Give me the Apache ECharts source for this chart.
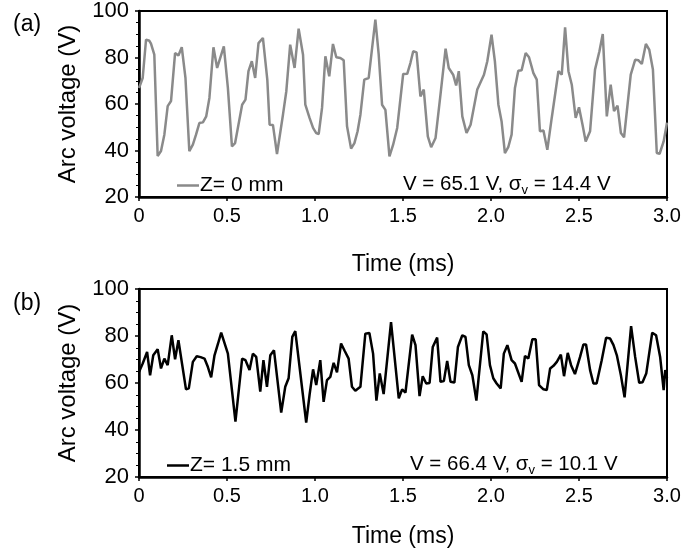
<!DOCTYPE html>
<html>
<head>
<meta charset="utf-8">
<script src="https://cdn.jsdelivr.net/npm/echarts@6/dist/echarts.min.js"></script>
<style>
html,body{margin:0;padding:0;background:#fff;}
#c{width:685px;height:555px;}
</style>
</head>
<body>
<div id="c"></div>
<script>
// Panel (a): Z = 0 mm
const tA = [0.000,0.021,0.040,0.059,0.068,0.087,0.106,0.125,0.144,0.163,0.182,0.205,0.224,0.243,0.264,0.286,0.306,0.324,0.343,0.363,0.382,0.400,0.423,0.444,0.482,0.505,0.528,0.546,0.586,0.605,0.622,0.641,0.660,0.679,0.704,0.729,0.742,0.761,0.784,0.818,0.837,0.859,0.884,0.907,0.932,0.945,0.969,0.989,1.007,1.021,1.040,1.059,1.081,1.102,1.121,1.144,1.163,1.182,1.205,1.224,1.242,1.258,1.280,1.305,1.343,1.362,1.381,1.400,1.423,1.444,1.467,1.501,1.524,1.542,1.558,1.577,1.599,1.618,1.641,1.660,1.685,1.713,1.742,1.760,1.785,1.802,1.817,1.837,1.861,1.884,1.922,1.960,1.979,2.003,2.022,2.042,2.060,2.079,2.098,2.117,2.136,2.155,2.174,2.197,2.216,2.241,2.260,2.278,2.298,2.320,2.345,2.364,2.383,2.402,2.421,2.440,2.459,2.481,2.500,2.520,2.538,2.563,2.591,2.616,2.635,2.658,2.680,2.699,2.719,2.738,2.756,2.794,2.819,2.838,2.857,2.880,2.899,2.920,2.942,2.958,2.981,3.000];
const vA = [66.9,71.2,87.7,87.2,86.0,81.2,37.6,39.8,46.8,59.1,61.3,81.9,80.9,84.4,71.2,39.7,42.5,46.8,51.8,52.1,54.7,62.6,84.4,75.5,84.8,66.9,41.8,43.2,59.7,61.9,74.1,78.4,71.2,86.2,88.4,70.5,51.1,51.0,38.5,55.4,65.5,85.5,75.5,92.4,81.2,59.7,54.0,49.7,47.5,47.1,58.3,80.5,71.9,85.8,80.1,79.8,78.8,50.4,40.8,43.2,48.3,55.4,70.5,71.2,96.3,81.2,59.7,57.5,37.5,42.5,49.7,72.9,73.0,77.6,82.7,82.2,63.3,66.2,46.1,41.4,45.4,64.0,83.8,75.5,72.6,68.0,74.1,54.7,47.5,51.1,66.2,72.6,78.4,89.8,78.4,59.7,52.6,38.9,41.4,46.8,66.9,74.3,74.5,81.9,80.1,73.3,70.5,48.3,48.6,40.3,54.0,64.0,74.1,72.6,93.0,74.1,68.3,54.0,58.6,51.1,43.9,48.3,74.8,82.7,90.1,54.7,68.3,56.9,59.3,47.5,45.7,72.6,79.0,78.8,77.2,85.8,83.4,74.8,38.9,38.6,43.9,52.0];

// Panel (b): Z = 1.5 mm
const tB = [0.000,0.021,0.046,0.063,0.081,0.106,0.125,0.144,0.163,0.186,0.205,0.224,0.245,0.267,0.283,0.306,0.328,0.350,0.372,0.391,0.410,0.429,0.448,0.467,0.505,0.548,0.586,0.605,0.628,0.647,0.666,0.689,0.707,0.727,0.746,0.767,0.808,0.831,0.850,0.871,0.888,0.950,0.969,0.989,1.007,1.030,1.049,1.068,1.087,1.106,1.125,1.148,1.169,1.191,1.210,1.229,1.258,1.286,1.309,1.330,1.349,1.368,1.390,1.432,1.476,1.495,1.514,1.552,1.571,1.594,1.612,1.632,1.651,1.669,1.694,1.713,1.732,1.751,1.770,1.792,1.812,1.837,1.855,1.874,1.894,1.917,1.956,1.975,1.994,2.013,2.032,2.055,2.073,2.093,2.117,2.136,2.174,2.193,2.212,2.235,2.254,2.273,2.298,2.317,2.336,2.355,2.374,2.397,2.415,2.436,2.455,2.477,2.506,2.525,2.540,2.563,2.582,2.600,2.629,2.654,2.677,2.696,2.715,2.738,2.759,2.796,2.819,2.842,2.861,2.882,2.916,2.938,2.961,2.981,2.990,3.000];
const vB = [64.7,68.3,73.2,63.3,71.8,74.4,66.2,70.4,67.6,80.3,70.1,78.2,68.0,57.3,57.7,69.0,71.4,71.0,70.4,66.9,62.4,71.8,76.5,81.4,72.5,43.6,70.4,69.7,65.5,72.5,71.1,56.3,69.7,58.4,71.8,73.9,47.4,58.4,62.0,79.6,82.1,43.2,54.9,65.8,59.1,69.7,52.0,61.2,62.6,68.6,64.5,76.8,73.6,70.4,58.4,56.7,58.4,81.0,81.3,72.5,52.5,64.1,55.3,85.9,53.5,57.3,55.9,80.6,76.1,54.4,62.9,59.8,60.0,75.3,79.3,60.5,60.8,69.4,60.5,60.2,75.3,80.3,79.6,67.6,63.3,52.5,82.0,80.7,67.6,62.0,59.8,57.7,72.5,76.1,69.7,68.3,60.5,71.5,70.4,78.6,78.6,59.1,57.3,57.0,66.2,67.3,69.0,72.1,62.9,72.8,67.6,63.8,71.1,76.4,76.4,65.5,59.8,59.8,69.7,79.3,78.9,76.1,71.8,63.3,53.9,84.2,71.1,60.1,60.3,64.0,81.4,80.3,71.1,57.0,65.5,62.0];

const xTicks = [0, 0.5, 1.0, 1.5, 2.0, 2.5, 3.0];
const yRange = [20, 100];
const panelLabels = ['(a)', '(b)'];
const seriesNames = ['Z= 0 mm', 'Z= 1.5 mm'];
const statTexts = [['65.1', '14.4'], ['66.4', '10.1']];

const FONT = 'Liberation Sans, Arial, sans-serif';
const pair = (t, v) => t.map((x, i) => [x, v[i]]);

const grids = [
  {left: 139, top: 10, width: 528, height: 187},
  {left: 139, top: 289, width: 528, height: 188}
];

function xAxis(i, gap) {
  return {
    gridIndex: i, type: 'value', min: 0, max: 3, interval: 0.5,
    name: 'Time (ms)', nameLocation: 'middle', nameGap: gap,
    nameTextStyle: {fontFamily: FONT, fontSize: 23, color: '#000'},
    axisLine: {show: true, lineStyle: {color: '#000', width: 2.5}},
    axisTick: {show: true, length: 4, lineStyle: {color: '#000', width: 1.5}},
    axisLabel: {fontFamily: FONT, fontSize: 20, color: '#000', margin: 9,
      formatter: v => (v === 0 ? '0' : v.toFixed(1))},
    splitLine: {show: false}
  };
}
function yAxis(i) {
  return {
    gridIndex: i, type: 'value', min: yRange[0], max: yRange[1], interval: 20,
    name: 'Arc voltage (V)', nameLocation: 'middle', nameGap: 59,
    nameTextStyle: {fontFamily: FONT, fontSize: 24, color: '#000'},
    axisLine: {show: true, lineStyle: {color: '#000', width: 2.5}},
    axisTick: {show: true, length: 4, lineStyle: {color: '#000', width: 1.5}},
    minorTick: {show: true, splitNumber: 4, length: 3, lineStyle: {color: '#000', width: 1}},
    axisLabel: {fontFamily: FONT, fontSize: 22, color: '#000', margin: 10, padding: [4, 0, 0, 0]},
    splitLine: {show: false}
  };
}

const richSub = {
  n: {fontFamily: FONT, fontSize: 20.5, fontWeight: 'normal', color: '#000'},
  sub: {fontFamily: FONT, fontSize: 13, fontWeight: 'normal', color: '#000', padding: [12, 0, 0, 0]}
};

const option = {
  animation: false,
  backgroundColor: '#fff',
  grid: grids.map(g => Object.assign({show: true, borderColor: '#000', borderWidth: 2, backgroundColor: 'transparent'}, g)),
  xAxis: [xAxis(0, 56), xAxis(1, 48)],
  yAxis: [yAxis(0), yAxis(1)],
  title: [
    {text: panelLabels[0], left: 8, top: 8, textStyle: {fontFamily: FONT, fontSize: 23, fontWeight: 'normal', color: '#000'}},
    {text: panelLabels[1], left: 8, top: 287, textStyle: {fontFamily: FONT, fontSize: 23, fontWeight: 'normal', color: '#000'}},
    {text: '{n|V = ' + statTexts[0][0] + ' V, σ}{sub|v}{n| = ' + statTexts[0][1] + ' V}', left: 398, top: 167,
      textStyle: {fontWeight: 'normal', rich: richSub}},
    {text: '{n|V = ' + statTexts[1][0] + ' V, σ}{sub|v}{n| = ' + statTexts[1][1] + ' V}', left: 405, top: 447,
      textStyle: {fontWeight: 'normal', rich: richSub}}
  ],
  legend: [
    {data: [seriesNames[0]], left: 172, top: 170, icon: 'rect', itemWidth: 22, itemHeight: 2.5, itemGap: 2,
      textStyle: {fontFamily: FONT, fontSize: 21, color: '#000', padding: [0, 0, 0, -4]}},
    {data: [seriesNames[1]], left: 162, top: 450, icon: 'rect', itemWidth: 22, itemHeight: 2.5, itemGap: 2,
      textStyle: {fontFamily: FONT, fontSize: 21, color: '#000', padding: [0, 0, 0, -4]}}
  ],
  series: [
    {name: seriesNames[0], type: 'line', xAxisIndex: 0, yAxisIndex: 0, data: pair(tA, vA),
      showSymbol: false, symbol: 'none', lineStyle: {color: '#8a8a8a', width: 2.5}, itemStyle: {color: '#8a8a8a'}},
    {name: seriesNames[1], type: 'line', xAxisIndex: 1, yAxisIndex: 1, data: pair(tB, vB),
      showSymbol: false, symbol: 'none', lineStyle: {color: '#000', width: 2.5}, itemStyle: {color: '#000'}}
  ]
};

const chart = echarts.init(document.getElementById('c'), null, {renderer: 'canvas'});
chart.setOption(option);
</script>
</body>
</html>
